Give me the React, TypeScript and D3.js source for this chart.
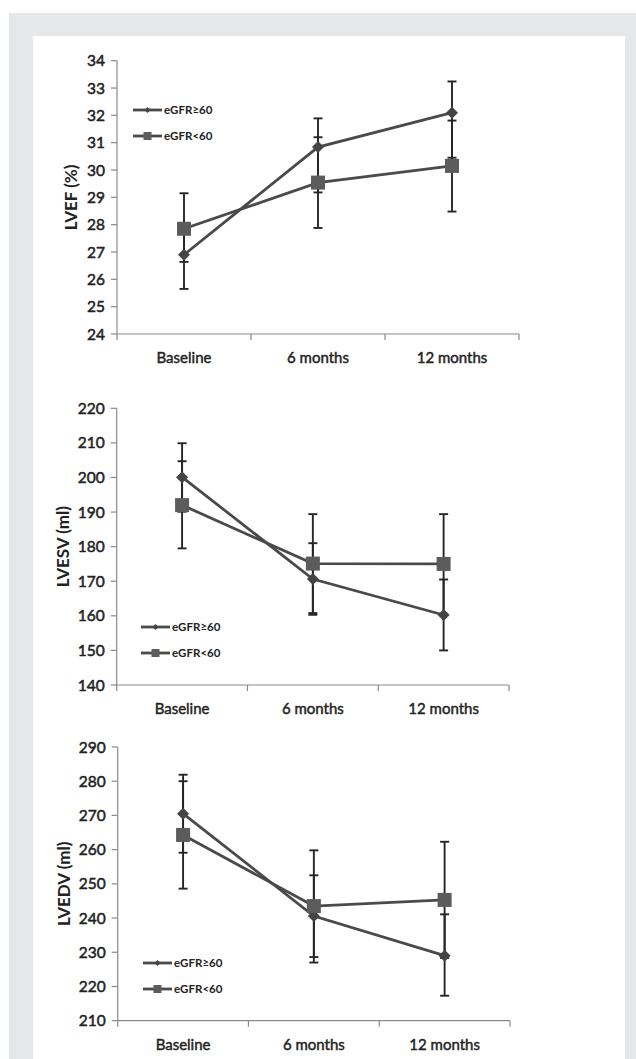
import React from "react";
import * as d3 from "d3";

// ---------- data ----------
const categories = ["Baseline", "6 months", "12 months"];
const seriesNames = ["eGFR≥60", "eGFR<60"];

// LVEF (%)
const lvefTicks = [24, 25, 26, 27, 28, 29, 30, 31, 32, 33, 34];
const lvefHigh60 = [26.9, 30.84, 32.1];
const lvefHigh60Lo = [25.65, 29.18, 30.45];
const lvefHigh60Hi = [28.0, 31.89, 33.24];
const lvefLow60 = [27.85, 29.54, 30.15];
const lvefLow60Lo = [26.64, 27.88, 28.48];
const lvefLow60Hi = [29.15, 31.2, 31.81];

// LVESV (ml)
const lvesvTicks = [140, 150, 160, 170, 180, 190, 200, 210, 220];
const lvesvHigh60 = [200.1, 170.65, 160.24];
const lvesvHigh60Lo = [190.1, 160.3, 150.0];
const lvesvHigh60Hi = [209.9, 181.0, 170.5];
const lvesvLow60 = [192.0, 175.1, 175.0];
const lvesvLow60Lo = [179.5, 160.8, 160.6];
const lvesvLow60Hi = [204.7, 189.4, 189.4];

// LVEDV (ml)
const lvedvTicks = [210, 220, 230, 240, 250, 260, 270, 280, 290];
const lvedvHigh60 = [270.5, 240.6, 229.0];
const lvedvHigh60Lo = [259.1, 228.6, 217.3];
const lvedvHigh60Hi = [281.9, 252.5, 241.1];
const lvedvLow60 = [264.3, 243.5, 245.3];
const lvedvLow60Lo = [248.6, 227.0, 228.3];
const lvedvLow60Hi = [280.0, 259.8, 262.3];

type Series = { mean: number[]; lo: number[]; hi: number[] };
type PanelCfg = {
  title: string;
  ticks: number[];
  s: Series[];
  x0: number;
  x1: number;
  yTop: number;
  yBot: number;
  legX0: number;
  legY: number;
};

const panels: PanelCfg[] = [
  {
    title: "LVEF (%)",
    ticks: lvefTicks,
    s: [
      { mean: lvefHigh60, lo: lvefHigh60Lo, hi: lvefHigh60Hi },
      { mean: lvefLow60, lo: lvefLow60Lo, hi: lvefLow60Hi },
    ],
    x0: 117,
    x1: 519,
    yTop: 60.7,
    yBot: 334,
    legX0: 133,
    legY: 110,
  },
  {
    title: "LVESV (ml)",
    ticks: lvesvTicks,
    s: [
      { mean: lvesvHigh60, lo: lvesvHigh60Lo, hi: lvesvHigh60Hi },
      { mean: lvesvLow60, lo: lvesvLow60Lo, hi: lvesvLow60Hi },
    ],
    x0: 116.7,
    x1: 509,
    yTop: 408.3,
    yBot: 685,
    legX0: 141,
    legY: 627,
  },
  {
    title: "LVEDV (ml)",
    ticks: lvedvTicks,
    s: [
      { mean: lvedvHigh60, lo: lvedvHigh60Lo, hi: lvedvHigh60Hi },
      { mean: lvedvLow60, lo: lvedvLow60Lo, hi: lvedvLow60Hi },
    ],
    x0: 117.7,
    x1: 510,
    yTop: 747,
    yBot: 1020.7,
    legX0: 143,
    legY: 963,
  },
];

const FONT = "Lato, 'Open Sans', sans-serif";
const AXIS = "#8a8a8a";
const LINE = "#4a4a4a";
const ERR = "#262626";
const TXT = "#222222";

const diamondPath = (size: number) => {
  const h = size / 2;
  return `M0,${-h}L${h},0L0,${h}L${-h},0Z`;
};

function Marker({ kind, x, y, big }: { kind: number; x: number; y: number; big: boolean }) {
  if (kind === 0) {
    const sz = big ? 12 : 6;
    return <path d={diamondPath(sz)} transform={`translate(${x},${y})`} fill="#444444" />;
  }
  const sz = big ? 14 : 8;
  return <rect x={x - sz / 2} y={y - sz / 2} width={sz} height={sz} fill="#5c5c5c" />;
}

function Panel({ p }: { p: PanelCfg }) {
  const yMin = d3.min(p.ticks) as number;
  const yMax = d3.max(p.ticks) as number;
  const y = d3.scaleLinear().domain([yMin, yMax]).range([p.yBot, p.yTop]);
  const x = d3.scaleBand<string>().domain(categories).range([p.x0, p.x1]).padding(0);
  const cx = (c: string) => (x(c) as number) + x.bandwidth() / 2;
  const line = d3
    .line<number>()
    .x((_, i) => cx(categories[i]))
    .y((v) => y(v));
  const boundaries = [p.x0, ...categories.map((c) => (x(c) as number) + x.bandwidth())];
  const cap = 4.5;
  return (
    <g>
      {/* y axis */}
      <line x1={p.x0} x2={p.x0} y1={p.yTop} y2={p.yBot} stroke={AXIS} strokeWidth={1.2} />
      {p.ticks.map((t) => (
        <g key={t}>
          <line x1={p.x0 - 6} x2={p.x0} y1={y(t)} y2={y(t)} stroke={AXIS} strokeWidth={1.2} />
          <text
            x={p.x0 - 12}
            y={y(t)}
            dy="0.36em"
            textAnchor="end"
            fontFamily={FONT}
            fontSize={15.5}
            fill={TXT}
            stroke={TXT}
            strokeWidth={0.5}
          >
            {t}
          </text>
        </g>
      ))}
      {/* x axis */}
      <line x1={p.x0} x2={p.x1} y1={p.yBot} y2={p.yBot} stroke={AXIS} strokeWidth={1.2} />
      {boundaries.map((b, i) => (
        <line key={i} x1={b} x2={b} y1={p.yBot} y2={p.yBot + 6} stroke={AXIS} strokeWidth={1.2} />
      ))}
      {categories.map((c) => (
        <text
          key={c}
          x={cx(c)}
          y={p.yBot + 29}
          textAnchor="middle"
          fontFamily={FONT}
          fontSize={15}
          fill={TXT}
          stroke={TXT}
          strokeWidth={0.45}
        >
          {c}
        </text>
      ))}
      {/* y title */}
      <text
        transform={`translate(${p.x0 - (p.ticks[0] >= 100 ? 48 : 40)},${(p.yTop + p.yBot) / 2}) rotate(-90)`}
        textAnchor="middle"
        fontFamily={FONT}
        fontWeight="bold"
        fontSize={17}
        fill={TXT}
      >
        {p.title}
      </text>
      {/* lines */}
      {p.s.map((s, i) => (
        <path key={"l" + i} d={line(s.mean) as string} fill="none" stroke={LINE} strokeWidth={2.8} />
      ))}
      {/* error bars */}
      {p.s.map((s, i) =>
        categories.map((c, j) => (
          <g key={`e${i}-${j}`} stroke={ERR} strokeWidth={1.9}>
            <line x1={cx(c)} x2={cx(c)} y1={y(s.lo[j])} y2={y(s.hi[j])} />
            <line x1={cx(c) - cap} x2={cx(c) + cap} y1={y(s.lo[j])} y2={y(s.lo[j])} />
            <line x1={cx(c) - cap} x2={cx(c) + cap} y1={y(s.hi[j])} y2={y(s.hi[j])} />
          </g>
        ))
      )}
      {/* markers */}
      {p.s.map((s, i) =>
        categories.map((c, j) => <Marker key={`m${i}-${j}`} kind={i} x={cx(c)} y={y(s.mean[j])} big={true} />)
      )}
      {/* legend */}
      {seriesNames.map((n, i) => {
        const ly = p.legY + i * 26;
        return (
          <g key={n}>
            <line x1={p.legX0} x2={p.legX0 + 29} y1={ly} y2={ly} stroke={LINE} strokeWidth={2.8} />
            <Marker kind={i} x={p.legX0 + 14.5} y={ly} big={false} />
            <text
              x={p.legX0 + 31}
              y={ly}
              dy="0.36em"
              fontFamily={FONT}
              fontWeight="bold"
              fontSize={11.5}
              fill={TXT}
            >
              {n}
            </text>
          </g>
        );
      })}
    </g>
  );
}

export default function App() {
  return (
    <svg
      width={636}
      height={1059}
      style={{ position: "absolute", left: 0, top: 0, display: "block" }}
    >
      <rect x={0} y={0} width={636} height={1059} fill="#ffffff" />
      <rect x={9} y={13} width={640} height={1060} fill="#e6e7e8" />
      <rect x={33} y={36} width={592} height={1040} fill="#ffffff" />
      {panels.map((p) => (
        <Panel key={p.title} p={p} />
      ))}
    </svg>
  );
}
